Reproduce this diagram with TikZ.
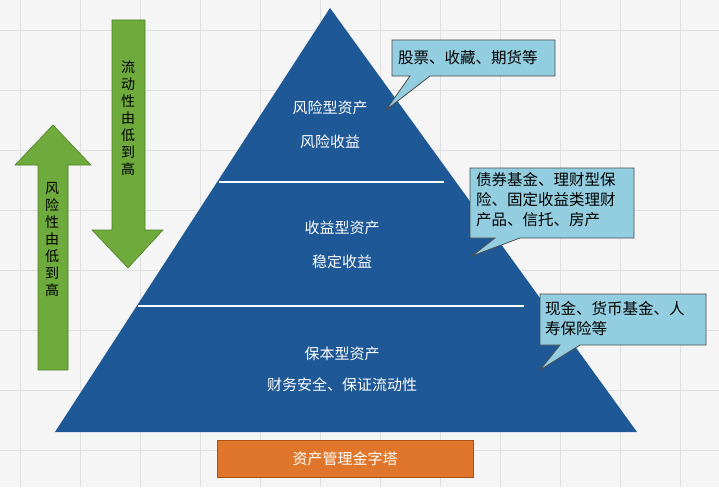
\documentclass[tikz,border=0pt]{standalone}
\usepackage{fontspec}
\setmainfont{Noto Sans CJK SC}
\definecolor{pyr}{RGB}{30,88,150}
\definecolor{callf}{RGB}{146,205,224}
\definecolor{gf}{RGB}{110,170,60}
\definecolor{gd}{RGB}{80,130,40}
\definecolor{orf}{RGB}{224,118,44}
\definecolor{ord}{RGB}{170,80,20}
\begin{document}
\begin{tikzpicture}[x=1pt,y=-1pt,
  lbl/.style={text=white,font=\fontsize{15}{17}\selectfont},
  call/.style={draw=black!70,fill=callf,line width=0.8pt},
  ctext/.style={font=\fontsize{15.5}{20}\selectfont,align=left,anchor=north west,text width=165pt,inner sep=0pt},
  garrow/.style={fill=gf,draw=gd,line width=0.6pt}]
\useasboundingbox (0,0) rectangle (719,487);
\fill[gray!8] (0,0) rectangle (719,487);
\foreach \x in {20,80,...,719} \draw[gray!25] (\x,0) -- (\x,487);
\foreach \y in {30,90,...,487} \draw[gray!25] (0,\y) -- (719,\y);
% pyramid
\coordinate (apex) at (330,8);
\coordinate (bl) at (55,432);
\coordinate (br) at (637,432);
\fill[pyr] (apex) -- (bl) -- (br) -- cycle;
\draw[white,line width=2pt] (219,182) -- (444,182);
\draw[white,line width=2pt] (138,306) -- (524,306);
\node[lbl] (t1) at (330,108) {风险型资产};
\node[lbl] (t2) at (330,142) {风险收益};
\node[lbl] (t3) at (342,228) {收益型资产};
\node[lbl] (t4) at (342,262) {稳定收益};
\node[lbl] (t5) at (342,354) {保本型资产};
\node[lbl] (t6) at (342,385) {财务安全、保证流动性};
% arrows
\draw[garrow] (38,370) -- (38,165) -- (15,165) -- (53,125) -- (91,165) -- (68,165) -- (68,370) -- cycle;
\draw[garrow] (112,20) -- (112,230) -- (92,230) -- (128,268) -- (163,230) -- (145,230) -- (145,20) -- cycle;
\node[font=\fontsize{14}{17}\selectfont,align=center,text width=15pt] (la) at (52,240) {风\\险\\性\\由\\低\\到\\高};
\node[font=\fontsize{14}{17}\selectfont,align=center,text width=15pt] (ra) at (128,118) {流\\动\\性\\由\\低\\到\\高};
% callouts
\draw[call] (392,40) -- (555,40) -- (555,76) -- (430,76) -- (386,110) -- (410,76) -- (392,76) -- cycle;
\node[ctext] (c1) at (398,50) {股票、收藏、期货等};
\draw[call] (470,168) -- (634,168) -- (634,238) -- (520,238) -- (472,256) -- (495,238) -- (470,238) -- cycle;
\node[ctext] (c2) at (476,172) {债券基金、理财型保\\险、固定收益类理财\\产品、信托、房产};
\draw[call] (540,294) -- (706,294) -- (706,345) -- (580,345) -- (540,370) -- (560,345) -- (540,345) -- cycle;
\node[ctext] (c3) at (545,301) {现金、货币基金、人\\寿保险等};
% bottom
\node[draw=ord,fill=orf,minimum width=256pt,minimum height=37pt,text=white,font=\fontsize{15}{17}\selectfont] (bot) at (345,459) {资产管理金字塔};
\end{tikzpicture}
\end{document}
